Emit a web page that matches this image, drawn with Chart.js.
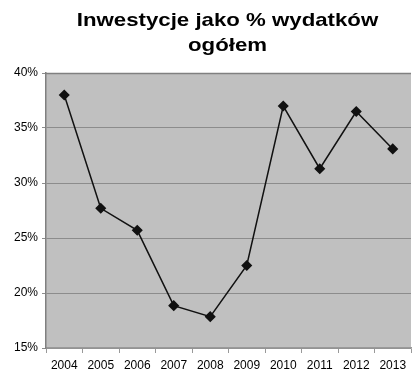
<!DOCTYPE html>
<html>
<head>
<meta charset="utf-8">
<script src="https://cdn.jsdelivr.net/npm/chart.js@4"></script>
<style>
  html, body { margin: 0; padding: 0; background: #fff; }
  #wrap { width: 417px; height: 372px; }
</style>
</head>
<body>
<div id="wrap"><canvas id="inv"></canvas></div>
<script>
// share of investment in total spending, per year
const years = ['2004', '2005', '2006', '2007', '2008', '2009', '2010', '2011', '2012', '2013'];
const investShare = [38.0, 27.7, 25.7, 18.85, 17.85, 22.5, 37.0, 31.3, 36.5, 33.1];
const titleLines = ['Inwestycje jako % wydatków', 'ogółem'];

const FONT = '"Liberation Sans", Arial, sans-serif';

// grey plot background + thin top frame
const plotBg = {
    id: 'plotBg',
    beforeDraw: (chart) => {
        const { ctx, chartArea: a } = chart;
        ctx.save();
        ctx.fillStyle = '#c0c0c0';
        ctx.fillRect(a.left, a.top, a.right - a.left, a.bottom - a.top);
        ctx.restore();
    },
    afterDatasetsDraw: (chart) => {
        const { ctx, chartArea: a } = chart;
        ctx.save();
        ctx.strokeStyle = '#808080';
        ctx.lineWidth = 1.5;
        ctx.beginPath();
        ctx.moveTo(a.left, a.top + 0.5);
        ctx.lineTo(a.right, a.top + 0.5);
        ctx.stroke();
        ctx.restore();
    }
};

// wide bold title, centred over the plot area
const wideTitle = {
    id: 'wideTitle',
    afterDraw: (chart) => {
        const { ctx, chartArea: a } = chart;
        const sx = 1.17;
        ctx.save();
        ctx.font = 'bold 19px ' + FONT;
        ctx.fillStyle = '#000';
        ctx.textAlign = 'center';
        ctx.textBaseline = 'alphabetic';
        const cx = (a.left + a.right) / 2 - 1;
        ctx.translate(cx, 0);
        ctx.scale(sx, 1);
        titleLines.forEach((t, i) => ctx.fillText(t, 0, 26 + i * 25));
        ctx.restore();
    }
};

new Chart(document.getElementById('inv'), {
    type: 'line',
    data: {
        labels: years,
        datasets: [{
            data: investShare,
            borderColor: '#111',
            borderWidth: 1.5,
            tension: 0,
            pointStyle: 'rectRot',
            pointRadius: 4.5,
            pointBackgroundColor: '#111',
            pointBorderColor: '#111',
            fill: false
        }]
    },
    options: {
        responsive: true,
        maintainAspectRatio: false,
        animation: false,
        layout: { padding: { left: 0, right: 0, top: 73, bottom: 0 } },
        plugins: {
            legend: { display: false },
            tooltip: { enabled: false },
            title: { display: false }
        },
        scales: {
            x: {
                offset: true,
                grid: { offset: true, drawOnChartArea: false, color: '#999', tickLength: 5 },
                border: { color: '#999', width: 1.5 },
                ticks: {
                    color: '#000',
                    padding: 5,
                    maxRotation: 0,
                    font: { family: FONT, size: 12 }
                },
                afterFit: (scale) => { scale.height = 24; }
            },
            y: {
                min: 15,
                max: 40,
                grid: { color: '#8c8c8c', tickLength: 4 },
                border: { color: '#808080', width: 1.5 },
                ticks: {
                    stepSize: 5,
                    color: '#000',
                    padding: 4,
                    font: { family: FONT, size: 12 },
                    callback: (v) => v + '%'
                },
                afterFit: (scale) => { scale.width = 46; }
            }
        }
    },
    plugins: [plotBg, wideTitle]
});
</script>
</body>
</html>
